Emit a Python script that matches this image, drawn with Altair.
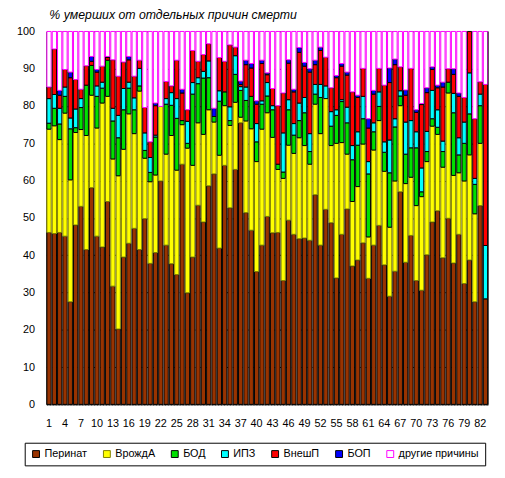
import altair as alt
import pandas as pd

bars = list(range(1, 84))

causes = ["Перинат", "ВрождА", "БОД", "ИПЗ", "ВнешП", "БОП", "другие причины"]
fills = ["#993300", "#FFFF00", "#00E000", "#00FFFF", "#FF0000", "#0000FF", "#FFFFFF"]
strokes = ["#000000", "#808000", "#000000", "#000000", "#000000", "#000000", "#FF00FF"]

# cumulative tops (%), bottom to top
perinat_top = [46.1, 45.8, 46.1, 45.1, 27.5, 48.1, 53.1, 41.5, 58.1, 45.1, 42.2, 54.4, 31.7, 20.2, 39.5, 43.2, 47.2, 41.5, 49.8, 37.8,
               40.7, 59.9, 42.7, 37.7, 34.8, 64.4, 29.9, 39.5, 53.4, 48.9, 58.6, 61.8, 41.9, 64.1, 52.7, 63.0, 75.5, 51.4, 46.7, 35.6,
               42.7, 50.4, 46.0, 46.1, 33.2, 49.4, 45.6, 44.4, 44.6, 44.0, 56.2, 42.7, 52.3, 48.7, 33.9, 45.6, 52.4, 37.1, 38.7, 43.3,
               33.8, 42.7, 48.0, 37.4, 29.0, 35.7, 57.0, 38.1, 45.3, 33.2, 30.6, 40.1, 48.9, 51.9, 39.3, 49.9, 37.9, 45.6, 32.4, 38.7,
               27.5, 53.3, 28.3]
vrozhd_top = [73.8, 74.7, 71.0, 78.1, 60.2, 72.9, 73.7, 72.1, 82.9, 74.1, 80.8, 82.6, 65.8, 61.3, 68.4, 77.9, 72.6, 84.0, 66.0, 59.7,
              61.5, 79.9, 67.1, 72.1, 62.8, 75.0, 68.7, 64.1, 75.5, 72.4, 79.0, 75.7, 66.8, 80.1, 74.8, 81.0, 77.0, 76.0, 73.9, 65.1,
              73.8, 78.2, 71.6, 63.0, 60.6, 69.5, 67.3, 71.5, 69.4, 64.4, 80.5, 72.6, 82.0, 69.4, 70.0, 70.2, 67.1, 54.4, 58.4, 69.8,
              44.9, 68.2, 76.1, 62.5, 47.5, 59.9, 80.1, 59.2, 60.9, 53.3, 55.7, 65.1, 74.6, 72.4, 63.6, 83.5, 61.4, 62.1, 59.9, 66.9,
              51.1, 70.0, 28.3]
bod_top = [75.4, 79.4, 75.2, 82.6, 73.9, 74.2, 79.6, 85.6, 90.9, 82.6, 84.8, 92.3, 76.0, 71.5, 79.0, 84.8, 79.0, 85.4, 68.1, 62.2,
           71.7, 79.9, 80.5, 80.2, 76.7, 76.1, 70.0, 83.2, 86.0, 87.5, 87.6, 77.2, 81.3, 83.8, 76.1, 88.5, 84.2, 81.5, 82.6, 70.4,
           80.5, 82.7, 79.0, 64.4, 62.3, 79.0, 72.2, 76.1, 78.2, 67.8, 83.2, 82.3, 82.0, 74.6, 77.5, 81.2, 75.5, 65.6, 69.5, 76.6,
           61.8, 73.1, 79.9, 67.6, 62.1, 74.4, 82.7, 67.1, 68.8, 68.8, 57.0, 67.8, 76.6, 74.3, 67.8, 86.4, 78.2, 66.9, 70.0, 77.9,
           59.0, 80.1, 28.3]
ipz_top = [82.0, 83.1, 79.4, 85.1, 76.8, 79.2, 82.0, 85.6, 90.9, 85.4, 86.4, 92.3, 79.4, 77.5, 84.7, 86.4, 82.2, 90.1, 72.8, 66.2,
           72.2, 79.9, 82.0, 83.6, 82.0, 76.1, 75.9, 86.3, 87.6, 89.3, 92.1, 77.2, 84.1, 83.8, 79.8, 93.5, 85.2, 85.1, 82.6, 75.3,
           81.4, 86.3, 80.1, 64.4, 72.8, 81.7, 75.3, 80.8, 82.3, 72.6, 85.8, 85.8, 85.4, 78.5, 79.0, 81.7, 79.7, 69.4, 73.1, 82.6,
           65.1, 75.5, 83.8, 70.4, 70.9, 76.6, 84.1, 75.7, 76.1, 73.1, 63.4, 73.2, 84.2, 79.0, 70.6, 86.4, 83.4, 71.5, 75.7, 88.9,
           60.6, 83.2, 42.6]
vnesh_top = [85.1, 95.3, 82.9, 89.8, 87.6, 87.1, 84.5, 90.8, 92.0, 89.1, 90.7, 93.0, 92.4, 88.0, 91.8, 92.4, 88.0, 92.3, 79.6, 70.4,
             80.1, 79.9, 86.6, 85.4, 92.3, 83.5, 79.0, 94.9, 92.0, 93.8, 96.7, 77.2, 93.0, 92.0, 96.4, 95.8, 85.8, 91.1, 90.2, 80.5,
             91.4, 88.4, 84.7, 80.1, 83.5, 91.5, 83.8, 94.4, 90.7, 89.1, 91.1, 94.9, 93.1, 84.9, 87.6, 90.7, 88.3, 83.8, 82.3, 90.1,
             74.1, 83.2, 90.1, 85.6, 86.3, 91.1, 90.5, 82.9, 90.1, 78.3, 80.4, 83.6, 89.8, 84.9, 85.1, 90.0, 88.5, 82.6, 82.3, 100.0,
             76.6, 86.5, 85.8]
bop_top = [85.1, 95.3, 84.2, 89.8, 89.1, 87.1, 84.5, 90.8, 93.3, 89.8, 90.7, 93.3, 92.4, 88.0, 91.8, 93.3, 88.0, 92.3, 79.6, 70.4,
           80.8, 79.9, 86.6, 85.4, 92.3, 84.5, 79.0, 94.9, 92.0, 93.8, 96.7, 79.4, 93.0, 92.0, 96.4, 95.8, 86.7, 92.3, 91.4, 81.4,
           92.3, 88.9, 84.7, 80.1, 83.5, 92.4, 84.5, 95.7, 91.7, 90.0, 92.3, 95.8, 93.1, 84.9, 88.2, 91.4, 89.1, 83.8, 82.9, 90.1,
           76.6, 84.2, 90.1, 85.6, 90.2, 92.6, 90.5, 84.3, 90.1, 79.0, 80.7, 84.9, 90.5, 85.6, 86.4, 90.0, 90.0, 83.5, 82.3, 100.0,
           76.6, 86.5, 85.8]

rows = []
for i, n in enumerate(bars):
    tops = [perinat_top[i], vrozhd_top[i], bod_top[i], ipz_top[i], vnesh_top[i], bop_top[i], 100.0]
    prev = 0.0
    for k, (c, t) in enumerate(zip(causes, tops)):
        v = round(t - prev, 2)
        if v > 0:
            rows.append({"n": n, "cause": c, "value": v, "ord": k})
        prev = t
df = pd.DataFrame(rows)

FONT = "Liberation Sans"

legend = alt.Legend(
    title=None, orient="none", legendX=-22, legendY=418, direction="horizontal", columns=7,
    symbolType="square", symbolSize=49, symbolStrokeWidth=1, labelFont=FONT, labelFontSize=11,
    labelColor="black", columnPadding=14, strokeColor="black", padding=6, fillColor="white",
    labelOffset=3,
)

bars_chart = alt.Chart(df).mark_bar(strokeWidth=1).encode(
    x=alt.X("n:O", sort="ascending",
            scale=alt.Scale(paddingInner=0.2, paddingOuter=0.1),
            axis=alt.Axis(title=None, labelAngle=0, labelOverlap=False, ticks=False,
                          labelExpr="(datum.value - 1) % 3 == 0 ? datum.label : ''",
                          domainColor="black", labelFont=FONT, labelFontSize=11,
                          labelColor="black", labelPadding=14)),
    y=alt.Y("value:Q", stack="zero", scale=alt.Scale(domain=[0, 100], nice=False),
            axis=alt.Axis(title=None, values=list(range(0, 101, 10)), grid=True,
                          gridDash=[1, 2], gridColor="black", gridOpacity=1, ticks=False,
                          domainColor="black", labelFont=FONT, labelFontSize=11,
                          labelColor="black", labelPadding=12)),
    fill=alt.Fill("cause:N", scale=alt.Scale(domain=causes, range=fills), legend=legend),
    stroke=alt.Stroke("cause:N", scale=alt.Scale(domain=causes, range=strokes), legend=legend),
    order=alt.Order("ord:Q", sort="ascending"),
)

border = alt.Chart(pd.DataFrame({"a": [0]})).mark_rule(color="black", strokeWidth=1).encode(
    x=alt.value(449), y=alt.value(0), y2=alt.value(379)
)

chart = alt.layer(bars_chart, border).properties(
    width=449, height=379,
    title=alt.TitleParams("% умерших  от отдельных причин смерти", anchor="start", frame="group",
                          font=FONT, fontSize=12.5, fontStyle="italic", fontWeight="normal",
                          color="black", dx=3, offset=4),
    padding={"left": 39, "top": 20, "right": 9, "bottom": 71},
    autosize=alt.AutoSizeParams(type="none"),
).configure_view(stroke=None)

chart.save("out.html", embed_options={"renderer": "svg", "actions": False})
